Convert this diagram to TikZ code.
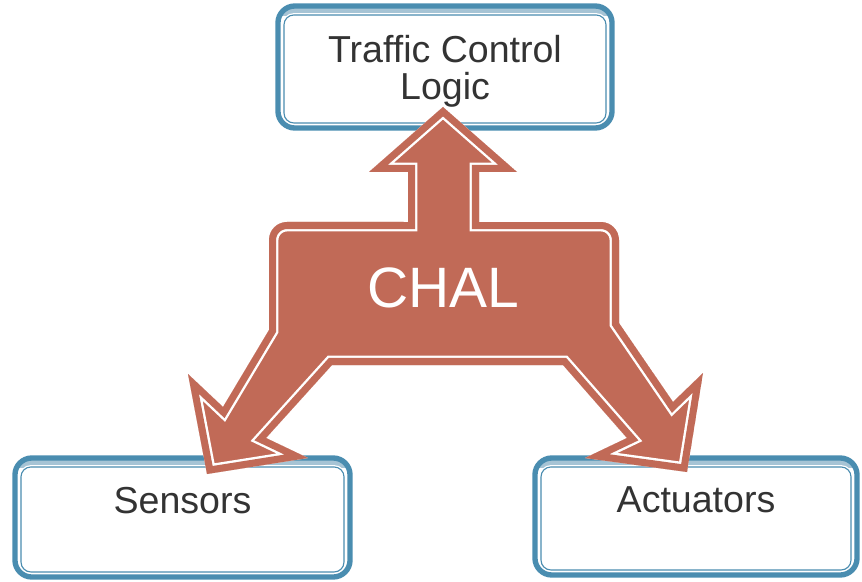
\documentclass[tikz,border=0pt]{standalone}
\usepackage{fontspec}
\setmainfont{Liberation Sans}
\usepackage{tikz}

\definecolor{boxblue}{HTML}{4A8DB0}
\definecolor{boxlight}{HTML}{A6C4D5}
\definecolor{chalred}{HTML}{C16A57}
\definecolor{txtgray}{HTML}{333333}

% outline of the CHAL block and its three arrows
\newcommand{\chaloutline}{(443,474) -- (517,409) -- (479,409) -- (479,359)
  -- (601,359) arc[start angle=90, end angle=0, radius=0.45cm]
  -- (619,258) -- (673,179) -- (703,208) -- (687,109) -- (585,123)
  -- (627,143) -- (563,216) -- (332,216) -- (266,143) -- (308,123)
  -- (207,107) -- (188,207) -- (223,174) -- (269,251)
  -- (269,341) arc[start angle=180, end angle=90, radius=0.45cm]
  -- (408,359) -- (408,409) -- (369,409) -- cycle}

\begin{document}
\begin{tikzpicture}[
  x=0.025cm, y=0.025cm,
  box/.style={draw=boxblue, line width=3.8pt, rounded corners=12pt, fill=white,
    inner sep=0pt, text=txtgray, font=\fontsize{26.7pt}{26.3pt}\selectfont,
    path picture={
      \fill[boxlight, sharp corners] (path picture bounding box.north west)
        rectangle ([yshift=-7pt]path picture bounding box.north east);
      \draw[boxblue, line width=0.8pt, rounded corners=7pt,
        preaction={draw=white, line width=2.6pt}]
        ([shift={(4.3pt,3.6pt)}]path picture bounding box.south west)
        rectangle ([shift={(-4.3pt,-6.4pt)}]path picture bounding box.north east);
    }},
  lowtext/.style={text height=19.1pt, text depth=25pt}
]
\useasboundingbox (0,0) rectangle (862,581);

\node[box, align=center, text depth=0pt, minimum width=8.35cm, minimum height=3.05cm] (logic) at (445,514) {Traffic Control\\Logic};
\node[box, lowtext, minimum width=8.375cm, minimum height=2.975cm] (sensors) at (182.5,63.5) {Sensors};
\node[box, lowtext, minimum width=8.05cm, minimum height=2.925cm] (actuators) at (696,64.5) {Actuators};

% CHAL block, white line running just inside its edge
\begin{scope}
  \clip \chaloutline;
  \fill[chalred] \chaloutline;
  \draw[white, line width=13.4pt, line join=miter] \chaloutline;
  \draw[chalred, line width=10pt, line join=miter] \chaloutline;
\end{scope}
\node[text=white, font=\fontsize{40.5pt}{40.5pt}\selectfont, inner sep=0pt] (chal) at (443,293.5) {CHAL};
\end{tikzpicture}
\end{document}
